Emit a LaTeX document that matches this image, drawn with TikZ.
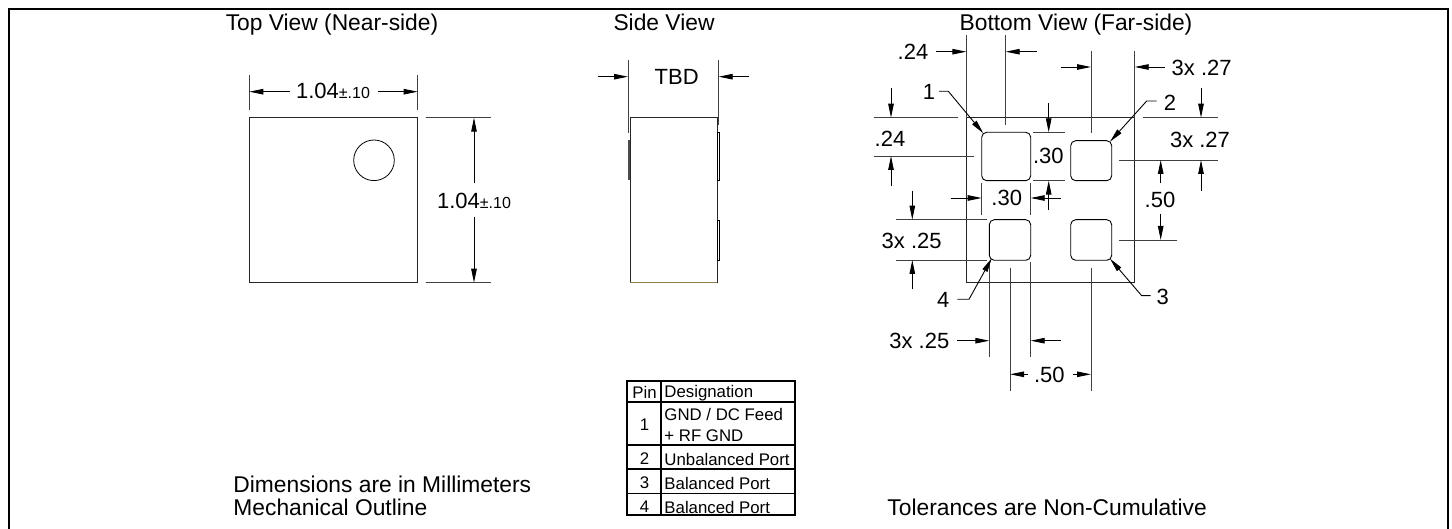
\documentclass[tikz,border=0pt]{standalone}
\usepackage{fontspec}
\setmainfont{Liberation Sans}
\usepackage{tikz}
\usetikzlibrary{arrows.meta}

\begin{document}
\begin{tikzpicture}[
    x=1pt,
    y=-1pt,
    >={Triangle[length=14pt,width=5.5pt]},
    line width=0.9pt
]

\tikzstyle{dimline}=[->, line width=0.9pt]
\tikzstyle{extline}=[line width=0.9pt, black!75]
\tikzstyle{leader}=[->, line width=0.9pt]
\tikzstyle{outline}=[draw, line width=1pt, black!85]
\tikzstyle{padbox}=[draw, line width=0.9pt, rounded corners=5pt]
\tikzstyle{dimtext}=[font=\fontsize{22}{24}\selectfont, inner sep=0pt]
\tikzstyle{titletext}=[font=\fontsize{22.8}{24}\selectfont, inner sep=0pt]
\tikzstyle{cell}=[font=\fontsize{16.8}{21}\selectfont, inner sep=0pt, anchor=west, align=left]
\tikzstyle{pinno}=[font=\fontsize{16.8}{21}\selectfont, inner sep=0pt]

\useasboundingbox (0,0) rectangle (1452,529);

% frame
\draw[line width=2.4pt] (9,529) -- (9,9) -- (1448,9) -- (1448,529);

% titles
\node[titletext] (toptitle) at (332,25) {Top View (Near-side)};
\node[titletext] (sidetitle) at (664,22) {Side View};
\node[titletext] (bottomtitle) at (1076,25) {Bottom View (Far-side)};

% top view
\coordinate (tl) at (249.3,117.7);
\coordinate (br) at (417.7,282.7);
\draw[outline] (tl) rectangle (br);
\draw[line width=0.8pt] (374,160.3) circle (20.3);

\draw[extline] (249.3,75) -- (249.3,110);
\draw[extline] (417.7,75) -- (417.7,110);
\node[dimtext] (topw) at (333,91) {1.04{\fontsize{16}{16}\selectfont ±.10}};
\draw[dimline] (290,91.7) -- (249.3,91.7);
\draw[dimline] (378.3,91.7) -- (417.7,91.7);

\draw[extline] (425.7,117.7) -- (490.7,117.7);
\draw[extline] (425.7,282.7) -- (490.7,282.7);
\node[dimtext] (toph) at (474,201) {1.04{\fontsize{16}{16}\selectfont ±.10}};
\draw[dimline] (474,183.3) -- (474,117.7);
\draw[dimline] (474,216.7) -- (474,282.7);

% side view
\draw[outline] (630,117.7) rectangle (717.3,282.7);
\draw[line width=1.1pt, black!60!yellow!70!brown] (630,282.7) -- (717.3,282.7);
\draw[line width=2pt, black!70] (629,140) -- (629,180);
\draw[line width=0.8pt] (717.3,132.5) rectangle (719.3,180);
\draw[line width=0.8pt] (717.3,220) rectangle (719.3,260);
\draw[extline] (628,60) -- (628,133);
\draw[extline] (718.7,60) -- (718.7,125);
\node[dimtext] (tbd) at (676.7,76.5) {TBD};
\draw[dimline] (597.7,76.7) -- (628,76.7);
\draw[dimline] (749.3,76.7) -- (718.7,76.7);

% bottom view
\draw[outline] (966.3,117.7) rectangle (1134.7,282.7);
\draw[padbox] (981.7,132.3) rectangle (1030.7,180.7);
\draw[padbox] (1070.7,140.7) rectangle (1111.7,180.7);
\draw[padbox] (1070.7,219.7) rectangle (1111.7,260.3);
\draw[padbox] (989.3,219.7) rectangle (1030.7,260.3);

% .24 across
\draw[extline] (966.3,35) -- (966.3,117.7);
\draw[extline] (1005.7,35) -- (1005.7,125);
\node[dimtext] at (913,52) (dima) {.24};
\draw[dimline] (936,51.7) -- (966.3,51.7);
\draw[dimline] (1036.7,51.7) -- (1005.7,51.7);

% 3x .27 across
\draw[extline] (1091,51) -- (1091,132.7);
\draw[extline] (1134.7,51) -- (1134.7,117.7);
\node[dimtext] at (1201.7,68) (dimb) {3x .27};
\draw[dimline] (1060.7,67) -- (1091,67);
\draw[dimline] (1165,67) -- (1134.7,67);

% .24 down
\draw[extline] (874.3,117.7) -- (958.3,117.7);
\draw[extline] (874.3,156) -- (974,156);
\node[dimtext] at (890,138.5) (dimc) {.24};
\draw[dimline] (891,88.3) -- (891,117.7);
\draw[dimline] (891,186) -- (891,156);

% pad 1 size
\draw[extline] (1033,132.3) -- (1065,132.3);
\draw[extline] (1033,180.7) -- (1065,180.7);
\node[dimtext] at (1048.3,156) (dimd) {.30};
\draw[dimline] (1048.7,103) -- (1048.7,132.3);
\draw[dimline] (1048.7,210) -- (1048.7,180.7);
\draw[extline] (981.7,183) -- (981.7,215);
\draw[extline] (1030.7,183) -- (1030.7,215);
\node[dimtext] at (1006.7,198) (dime) {.30};
\draw[dimline] (950.7,198) -- (981.7,198);
\draw[dimline] (1060.7,198) -- (1030.7,198);

% 3x .27 down
\draw[extline] (1142.7,117.7) -- (1217.7,117.7);
\draw[extline] (1119,160) -- (1217.7,160);
\node[dimtext] at (1200,139.5) (dimf) {3x .27};
\draw[dimline] (1201,88.3) -- (1201,117.7);
\draw[dimline] (1201,190.7) -- (1201,160);

% .50 down
\draw[extline] (1119,240) -- (1177.3,240);
\node[dimtext] at (1160,199.5) (dimg) {.50};
\draw[dimline] (1160.7,182.7) -- (1160.7,160);
\draw[dimline] (1160.7,214) -- (1160.7,240);

% 3x .25 down
\draw[extline] (896,219.7) -- (986.7,219.7);
\draw[extline] (896,260) -- (986.7,260);
\node[dimtext] at (911.7,240.5) (dimh) {3x .25};
\draw[dimline] (912.3,190.7) -- (912.3,219.7);
\draw[dimline] (912.3,289.3) -- (912.3,260);

% 3x .25 across
\draw[extline] (989.3,262) -- (989.3,356.7);
\draw[extline] (1030.7,262) -- (1030.7,356.7);
\node[dimtext] at (919.3,341) (dimi) {3x .25};
\draw[dimline] (957.3,340.7) -- (989.3,340.7);
\draw[dimline] (1060.7,340.7) -- (1030.7,340.7);

% .50 across
\draw[extline] (1010,267.7) -- (1010,390.7);
\draw[extline] (1091,267.7) -- (1091,390.7);
\node[dimtext] at (1049.3,375) (dimj) {.50};
\draw[dimline] (1028.3,374.3) -- (1010,374.3);
\draw[dimline] (1073.3,374.3) -- (1091,374.3);

% pin labels
\node[dimtext] (pina) at (929,92) {1};
\node[dimtext] (pinb) at (1170,103) {2};
\node[dimtext] (pinc) at (1162.7,296.7) {3};
\node[dimtext] (pind) at (943.3,300) {4};
\draw[leader] (939,91.3) -- (948.3,91.3) -- (983.3,133.3);
\draw[leader] (1156.7,101) -- (1146.7,101) -- (1110,141.7);
\draw[leader] (1150.7,295.7) -- (1141.7,295.7) -- (1110,258.7);
\draw[leader] (957.3,299.3) -- (969,299.3) -- (991.7,258.3);

% pin table
\draw[line width=2pt] (627.3,380.7) rectangle (795,515);
\draw[line width=2pt] (627.3,401.7) -- (795,401.7);
\draw[line width=1.2pt] (627.3,445) -- (795,445);
\draw[line width=1.2pt] (627.3,469) -- (795,469);
\draw[line width=1.2pt] (627.3,493.3) -- (795,493.3);
\draw[line width=1.2pt] (661,380.7) -- (661,515);
\node[pinno] (hpin) at (644.5,392) {Pin};
\node[cell] (hdes) at (664,393) {Designation};
\node[pinno] (row1) at (644.5,425) {1};
\node[cell] (des1) at (664,425) {GND / DC Feed\\+ RF GND};
\node[pinno] (row2) at (644.5,459) {2};
\node[cell] (des2) at (664,459) {Unbalanced Port};
\node[pinno] (row3) at (644.5,483) {3};
\node[cell] (des3) at (664,483) {Balanced Port};
\node[pinno] (row4) at (644.5,507) {4};
\node[cell] (des4) at (664,507) {Balanced Port};

% notes
\node[titletext, anchor=west] (notea) at (233,484) {Dimensions are in Millimeters};
\node[titletext, anchor=west] (noteb) at (233,507) {Mechanical Outline};
\node[titletext, anchor=west] (notec) at (887,507) {Tolerances are Non-Cumulative};

\end{tikzpicture}
\end{document}
